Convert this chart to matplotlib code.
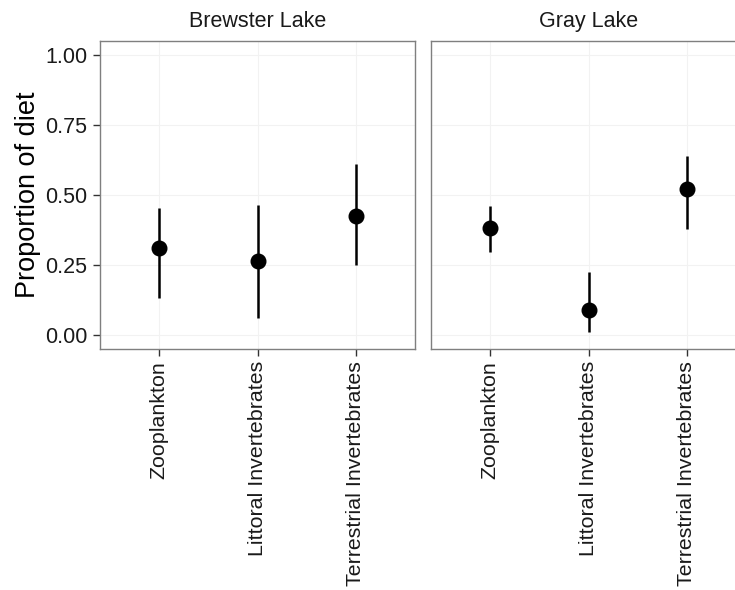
import matplotlib
matplotlib.use("Agg")
import matplotlib.pyplot as plt
import numpy as np

plt.rcParams['font.family'] = ['Liberation Sans', 'DejaVu Sans']

categories = ["Zooplankton", "Littoral Invertebrates", "Terrestrial Invertebrates"]
lakes = ["Brewster Lake", "Gray Lake"]

brewster_mean = [0.312, 0.266, 0.424]
brewster_lo = [0.133, 0.060, 0.249]
brewster_hi = [0.455, 0.464, 0.611]

gray_mean = [0.383, 0.088, 0.521]
gray_lo = [0.296, 0.012, 0.380]
gray_hi = [0.459, 0.226, 0.641]

yticks = [0.0, 0.25, 0.5, 0.75, 1.0]
yticklabels = ["0.00", "0.25", "0.50", "0.75", "1.00"]

W, H = 735, 590
fig = plt.figure(figsize=(W / 100, H / 100), dpi=100)

panel_w = 315 / W
panel_h = 308 / H
bottom = 1 - 349 / H
lefts = [100 / W, 431 / W]

series = [(brewster_mean, brewster_lo, brewster_hi), (gray_mean, gray_lo, gray_hi)]
x = np.arange(1, len(categories) + 1)

for i, (lake, (m, lo, hi)) in enumerate(zip(lakes, series)):
    ax = fig.add_axes([lefts[i], bottom, panel_w, panel_h])
    ax.set_facecolor('white')
    ax.set_xlim(0.4, 3.6)
    ax.set_ylim(-0.05, 1.05)
    ax.set_yticks(yticks)
    ax.set_xticks(x)
    ax.set_xticklabels(categories, rotation=90, fontsize=15.4, color='#1a1a1a')
    ax.grid(True, which='major', color='#f2f2f2', lw=0.8, zorder=0)
    ax.set_axisbelow(True)
    ax.tick_params(axis='both', which='major', length=5, width=1, color='#333333', pad=4)
    ax.tick_params(axis='x', which='major', pad=3.5)
    if i == 0:
        ax.set_yticklabels(yticklabels, fontsize=15.5, color='#1a1a1a')
        ax.set_ylabel("Proportion of diet", fontsize=19.5, color='black', labelpad=3)
    else:
        ax.tick_params(axis='y', which='major', length=0, labelleft=False)
    for s in ax.spines.values():
        s.set_color('#7f7f7f')
        s.set_linewidth(1.0)
    if i == 1:
        ax.spines['right'].set_visible(False)
    m = np.array(m); lo = np.array(lo); hi = np.array(hi)
    ax.vlines(x, lo, hi, color='black', lw=1.8, zorder=3)
    ax.plot(x, m, 'o', color='black', markersize=10.5, zorder=4)
    ax.text(0.5, 1 + 14 / 308, lake, transform=ax.transAxes, ha='center', va='baseline',
            fontsize=15.5, color='#1a1a1a')

fig.savefig("out.png", dpi=100, facecolor='white')
